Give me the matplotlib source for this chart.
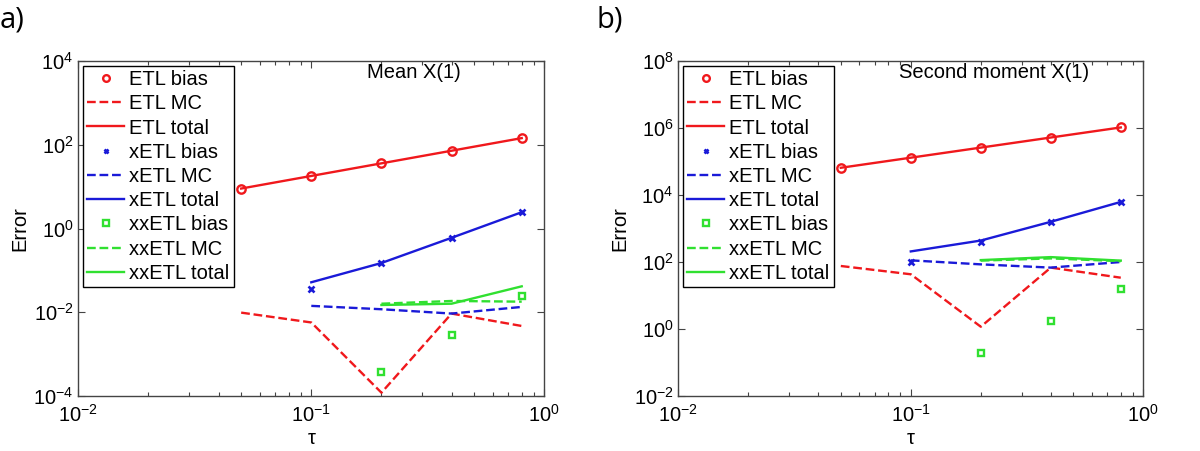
import numpy as np
import matplotlib
matplotlib.use("Agg")
import matplotlib.pyplot as plt
from matplotlib.ticker import LogLocator, NullLocator, LogFormatterMathtext

plt.rcParams['font.family'] = ['Liberation Sans', 'DejaVu Sans']
plt.rcParams['mathtext.default'] = 'regular'

tau = [0.05, 0.1, 0.2, 0.4, 0.8]
tau_x = [0.1, 0.2, 0.4, 0.8]
tau_xx = [0.2, 0.4, 0.8]

# Panel a) Mean X(1)
a_etl_bias = [9.0, 18.0, 36.0, 72.0, 144.0]
a_etl_mc = [0.0098, 0.0057, 1.2e-4, 0.0093, 0.0047]
a_etl_total = [9.0, 18.0, 36.0, 72.0, 144.0]
a_xetl_bias = [0.0366, 0.15, 0.6, 2.45]
a_xetl_mc = [0.0142, 0.0118, 0.0093, 0.0134]
a_xetl_total = [0.052, 0.15, 0.6, 2.45]
a_xxetl_bias = [3.66e-4, 0.0029, 0.024]
a_xxetl_mc = [0.016, 0.0186, 0.0179]
a_xxetl_total = [0.0149, 0.016, 0.0416]

# Panel b) Second moment X(1)
b_etl_bias = [6.5e4, 1.3e5, 2.6e5, 5.2e5, 1.04e6]
b_etl_mc = [76.0, 43.0, 1.17, 68.0, 34.0]
b_etl_total = [6.5e4, 1.3e5, 2.6e5, 5.2e5, 1.04e6]
b_xetl_bias = [102.0, 392.0, 1585.0, 6220.0]
b_xetl_mc = [112.0, 85.0, 68.0, 100.0]
b_xetl_total = [207.0, 437.0, 1585.0, 6220.0]
b_xxetl_bias = [0.195, 1.7, 16.0]
b_xxetl_mc = [110.0, 128.0, 106.0]
b_xxetl_total = [114.0, 140.0, 110.0]

labels = ['ETL bias', 'ETL MC', 'ETL total', 'xETL bias', 'xETL MC', 'xETL total',
          'xxETL bias', 'xxETL MC', 'xxETL total']

RED = '#f0181c'
BLUE = '#1a1ad8'
GREEN = '#30e030'
FRAME = '#444444'

fig = plt.figure(figsize=(12, 4.51), dpi=100)
ax1 = fig.add_axes([78.3 / 1200, 1 - 396 / 451, 466 / 1200, 335 / 451])
ax2 = fig.add_axes([678.3 / 1200, 1 - 396 / 451, 465 / 1200, 335 / 451])


def draw(ax, d, ylim, yticks, title, tx):
    lw = 1.7
    ax.plot(tau, d[0], 'o', color=RED, mfc='none', mew=1.7, ms=6.0, label=labels[0])
    ax.plot(tau, d[1], '--', color=RED, lw=lw, label=labels[1])
    ax.plot(tau, d[2], '-', color=RED, lw=lw, label=labels[2])
    ax.plot(tau_x, d[3], 'x', color=BLUE, mew=1.9, ms=4.0, label=labels[3])
    ax.plot(tau_x, d[4], '--', color=BLUE, lw=lw, label=labels[4])
    ax.plot(tau_x, d[5], '-', color=BLUE, lw=lw, label=labels[5])
    ax.plot(tau_xx, d[6], 's', color=GREEN, mfc='none', mew=1.7, ms=5.0, label=labels[6])
    ax.plot(tau_xx, d[7], '--', color=GREEN, lw=lw, label=labels[7])
    ax.plot(tau_xx, d[8], '-', color=GREEN, lw=lw, label=labels[8])
    ax.set_xscale('log')
    ax.set_yscale('log')
    ax.set_xlim(1e-2, 1e0)
    ax.set_ylim(*ylim)
    ax.set_yticks(yticks)
    ax.yaxis.set_minor_locator(NullLocator())
    ax.xaxis.set_major_locator(LogLocator(base=10, numticks=10))
    ax.xaxis.set_minor_locator(LogLocator(base=10, subs=np.arange(2, 10), numticks=20))
    ax.xaxis.set_major_formatter(LogFormatterMathtext())
    ax.yaxis.set_major_formatter(LogFormatterMathtext())
    ax.tick_params(which='both', direction='in', top=True, right=True, color=FRAME,
                   labelsize=14.5, labelcolor='black')
    ax.tick_params(which='major', length=5, width=0.8)
    ax.tick_params(which='minor', length=3, width=0.8)
    ax.tick_params(axis='x', pad=6)
    for s in ax.spines.values():
        s.set_color(FRAME)
        s.set_linewidth(1.0)
    ax.set_xlabel('τ', fontsize=14.5, labelpad=2)
    ax.set_ylabel('Error', fontsize=14.5, labelpad=3)
    ax.text(tx, 0.967, title, transform=ax.transAxes, ha='center', va='center', fontsize=14.5)
    leg = ax.legend(loc='upper left', bbox_to_anchor=(0.01, 0.985), fontsize=14.5,
                    frameon=True, fancybox=False, framealpha=1, edgecolor='black',
                    borderpad=0.2, labelspacing=0.26, handlelength=1.85,
                    handletextpad=0.25, borderaxespad=0.0, markerscale=0.8)
    leg.get_frame().set_linewidth(1.0)


draw(ax1, [a_etl_bias, a_etl_mc, a_etl_total, a_xetl_bias, a_xetl_mc, a_xetl_total,
           a_xxetl_bias, a_xxetl_mc, a_xxetl_total],
     (1e-4, 1e4), [1e-4, 1e-2, 1e0, 1e2, 1e4], 'Mean X(1)', 0.72)
draw(ax2, [b_etl_bias, b_etl_mc, b_etl_total, b_xetl_bias, b_xetl_mc, b_xetl_total,
           b_xxetl_bias, b_xxetl_mc, b_xxetl_total],
     (1e-2, 1e8), [1e-2, 1e0, 1e2, 1e4, 1e6, 1e8], 'Second moment X(1)', 0.68)

fig.text(0.0, 0.955, 'a)', fontsize=21, family=['Open Sans', 'DejaVu Sans'], ha='left', va='center')
fig.text(0.497, 0.955, 'b)', fontsize=21, family=['Open Sans', 'DejaVu Sans'], ha='left', va='center')

fig.savefig('out.png', dpi=100)
